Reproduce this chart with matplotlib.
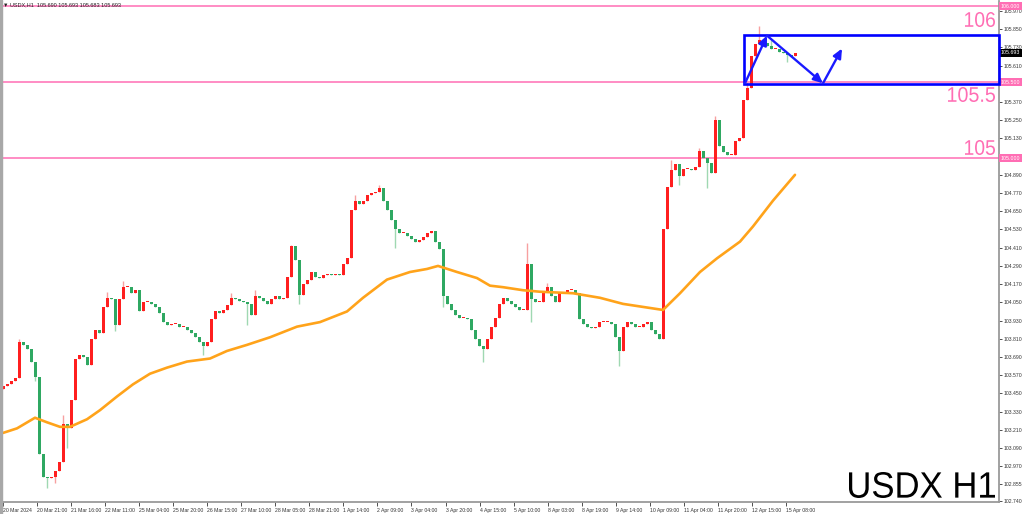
import numpy as np
import matplotlib.pyplot as plt
from matplotlib.textpath import TextPath
from matplotlib.patches import PathPatch
from matplotlib.transforms import Affine2D, IdentityTransform
from matplotlib.font_manager import FontProperties

plt.rcParams['font.family'] = ['Liberation Sans', 'DejaVu Sans']

# hourly closes, one value per 2 bars
closes = [
    103.50, 103.51, 103.53, 103.55, 103.79, 103.77, 103.74, 103.66, 103.56, 103.05,
    102.90, 102.89, 102.90, 102.94, 103.00, 103.25, 103.22, 103.41, 103.68, 103.70,
    103.69, 103.64, 103.81, 103.87, 103.85, 104.02, 104.08, 104.07, 103.90, 104.07,
    104.15, 104.15, 104.11, 104.13, 103.99, 104.05, 104.05, 104.04, 104.02, 103.98,
    103.92, 103.90, 103.91, 103.91, 103.89, 103.89, 103.87, 103.85, 103.82, 103.79,
    103.76, 103.79, 103.94, 103.99, 103.98, 104.00, 104.03, 104.08, 104.07, 104.06,
    104.05, 104.04, 103.97, 104.09, 104.08, 104.06, 104.04, 104.07, 104.09, 104.07,
    104.08, 104.22, 104.42, 104.33, 104.10, 104.17, 104.20, 104.25, 104.22, 104.21,
    104.23, 104.24, 104.23, 104.24, 104.23, 104.30, 104.34, 104.66, 104.72, 104.70,
    104.72, 104.76, 104.77, 104.78, 104.80, 104.72, 104.66, 104.59, 104.53, 104.51,
    104.51, 104.49, 104.47, 104.45, 104.46, 104.48, 104.51, 104.52, 104.45, 104.40,
    104.09, 104.04, 104.00, 103.97, 103.95, 103.95, 103.94, 103.87, 103.81, 103.76,
    103.74, 103.81, 103.89, 103.95, 104.04, 104.08, 104.06, 104.04, 104.02, 104.00,
    104.00, 104.30, 104.07, 104.05, 104.05, 104.12, 104.15, 104.09, 104.05, 104.11,
    104.12, 104.13, 104.13, 104.11, 103.94, 103.91, 103.89, 103.88, 103.89, 103.92,
    103.92, 103.92, 103.91, 103.82, 103.73, 103.89, 103.92, 103.91, 103.89, 103.89,
    103.91, 103.92, 103.87, 103.84, 103.81, 104.53, 104.81, 104.92, 104.96, 104.88,
    104.93, 104.93, 104.92, 104.94, 105.05, 105.00, 104.97, 104.90, 105.25, 105.08,
    105.04, 105.02, 105.02, 105.11, 105.13, 105.38, 105.46, 105.67, 105.75, 105.78,
    105.76, 105.74, 105.72, 105.72, 105.70, 105.69, 105.68, 105.67, 105.69,
]
first_open = 103.48

# notable wick extremes (candle index -> price)
wick_highs = {4: 103.81, 9: 103.19, 15: 103.31, 26: 104.12, 30: 104.19,
              57: 104.11, 63: 104.13, 72: 104.43, 88: 104.76, 94: 104.82,
              131: 104.44, 136: 104.18, 167: 104.99, 174: 105.07, 178: 105.28,
              186: 105.50, 189: 105.87, 192: 105.78}
wick_lows = {8: 103.53, 11: 102.83, 13: 102.86, 16: 103.09, 28: 103.86,
             50: 103.70, 61: 103.90, 74: 104.04, 98: 104.41, 110: 104.02,
             120: 103.66, 132: 103.92, 154: 103.63, 169: 104.82, 176: 104.80,
             196: 105.63}

# 100-period moving average (bar index, price)
ma_bars = [0, 7, 16, 22, 28.5, 33.5, 42, 48.5, 57, 65, 73.5, 82, 92, 103.5, 112,
           122, 133.5, 147, 158.5, 172, 180, 192, 203.5, 212, 217.5, 227, 237,
           243.5, 250, 260, 268.5, 285, 298.5, 310, 330, 338.5, 348.5, 357, 368.5,
           375, 385, 396]
ma_vals = [103.19, 103.22, 103.29, 103.26, 103.23, 103.23, 103.28, 103.34, 103.43,
           103.51, 103.58, 103.62, 103.66, 103.68, 103.73, 103.77, 103.82, 103.89,
           103.92, 103.99, 104.08, 104.20, 104.25, 104.27, 104.29, 104.25, 104.21,
           104.16, 104.15, 104.13, 104.12, 104.11, 104.08, 104.04, 104.00, 104.11,
           104.25, 104.34, 104.45, 104.55, 104.72, 104.89]

levels = [106.0, 105.5, 105.0]
level_texts = ['106', '105.5', '105']
level_boxes = ['106.000', '105.500', '105.000']
last_price = 105.693

range_bars = [370.5, 498]
range_prices = [105.49, 105.81]
path_bars = [371, 382, 410, 419.5]
path_prices = [105.493, 105.807, 105.493, 105.722]

price_ticks = [105.970, 105.850, 105.730, 105.610, 105.370, 105.250, 105.130,
               104.890, 104.770, 104.650, 104.530, 104.410, 104.290, 104.170,
               104.050, 103.930, 103.810, 103.690, 103.570, 103.450, 103.330,
               103.210, 103.090, 102.970, 102.855, 102.740]
time_labels = ['20 Mar 2024', '20 Mar 21:00', '21 Mar 16:00', '22 Mar 11:00',
               '25 Mar 04:00', '25 Mar 20:00', '26 Mar 15:00', '27 Mar 10:00',
               '28 Mar 05:00', '28 Mar 21:00', '1 Apr 14:00', '2 Apr 09:00',
               '3 Apr 04:00', '3 Apr 20:00', '4 Apr 15:00', '5 Apr 10:00',
               '8 Apr 03:00', '8 Apr 19:00', '9 Apr 14:00', '10 Apr 09:00',
               '11 Apr 04:00', '11 Apr 20:00', '12 Apr 15:00', '15 Apr 08:00']

pink = '#ff6eb4'
W, H = 1024, 514

fig = plt.figure(figsize=(W / 100, H / 100), dpi=100)
ax = fig.add_axes([2 / W, 12 / H, 997 / W, 501 / H])

c = np.array(closes)
o = np.r_[first_open, c[:-1]]
hi = np.maximum(o, c)
lo = np.minimum(o, c)
for k, v in wick_highs.items():
    hi[k] = max(hi[k], v)
for k, v in wick_lows.items():
    lo[k] = min(lo[k], v)
xs = np.arange(len(c)) * 2
up = c >= o
dn = ~up
bot = np.minimum(o, c)
body = np.maximum(np.abs(c - o), 0.006)

ax.vlines(xs[up], lo[up], hi[up], color='#f7a0a0', lw=1.0, zorder=2)
ax.vlines(xs[dn], lo[dn], hi[dn], color='#9fd8b2', lw=1.0, zorder=2)
ax.bar(xs[up], body[up], bottom=bot[up], width=1.5, color='#ff1f1f', lw=0, zorder=3)
ax.bar(xs[dn], body[dn], bottom=bot[dn], width=1.5, color='#2fa862', lw=0, zorder=3)

ax.plot(ma_bars, ma_vals, color='#ffa31a', lw=1.9, zorder=4,
        solid_capstyle='round', solid_joinstyle='round')

for lv in levels:
    ax.axhline(lv, color=pink, lw=1.1, zorder=1)

ax.add_patch(plt.Rectangle((range_bars[0], range_prices[0]),
                           range_bars[1] - range_bars[0],
                           range_prices[1] - range_prices[0],
                           fill=False, ec='#0000ff', lw=1.9, zorder=5,
                           clip_on=False))
for i in range(len(path_bars) - 1):
    ax.annotate('', xy=(path_bars[i + 1], path_prices[i + 1]),
                xytext=(path_bars[i], path_prices[i]),
                arrowprops=dict(arrowstyle='-|>,head_length=0.55,head_width=0.25',
                                color='#1a1aff', lw=1.7, shrinkA=0, shrinkB=0),
                zorder=6)

ax.set_xlim(-0.5, 498)
ax.set_ylim(102.735, 106.035)

ax.yaxis.tick_right()
ax.set_yticks(price_ticks)
ax.set_yticklabels(['%.3f' % t for t in price_ticks])
ax.tick_params(axis='y', length=2, width=0.6, pad=1.5, labelsize=3.7,
               colors='#333333')
ax.set_xticks(np.arange(len(time_labels)) * 17.02)
ax.set_xticklabels(time_labels)
for t in ax.get_xticklabels():
    t.set_ha('left')
ax.tick_params(axis='x', length=3, width=0.6, pad=1, labelsize=3.7,
               colors='#333333')

for s in ['top', 'left']:
    ax.spines[s].set_visible(False)
for s in ['right', 'bottom']:
    ax.spines[s].set_color('#9a9a9a')
    ax.spines[s].set_linewidth(1.3)

# price boxes on the axis
ytf = ax.get_yaxis_transform()
for lv, box in zip(levels, level_boxes):
    ax.text(1.002, lv, box, transform=ytf, ha='left', va='center', fontsize=3.8,
            color='white', clip_on=False,
            bbox=dict(boxstyle='square,pad=0.3', fc=pink, ec='none'))
ax.text(1.002, last_price, '%.3f' % last_price, transform=ytf, ha='left',
        va='center', fontsize=3.8, color='white', clip_on=False,
        bbox=dict(boxstyle='square,pad=0.3', fc='black', ec='none'))

# big labels: fit the glyph outlines into the box they cover in the screenshot
fp = FontProperties(family='Liberation Sans')


def box_text(s, x0, y0, x1, y1, color):
    tp = TextPath((0, 0), s, size=100, prop=fp)
    ext = tp.get_extents()
    tr = (Affine2D().translate(-ext.x0, -ext.y0)
          .scale((x1 - x0) / ext.width, (y1 - y0) / ext.height)
          .translate(x0, H - y1))
    fig.add_artist(PathPatch(tr.transform_path(tp), transform=IdentityTransform(),
                             fc=color, ec='none', zorder=8))


box_text(level_texts[0], 965, 12, 995, 27, pink)
box_text(level_texts[1], 948, 87, 995, 102, pink)
box_text(level_texts[2], 965, 140, 995, 155, pink)
box_text('USDX H1', 849, 472, 995, 498, 'black')

fig.text(3 / W, 1 - 5 / H, '\u25bc USDX,H1  105.690 105.693 105.683 105.693',
         ha='left', va='center', fontsize=4.0, color='#222222')

fig.patches.append(plt.Rectangle((0, 0), 2 / W, 1, transform=fig.transFigure,
                                 color='#a8a8a8', zorder=10))

fig.savefig('out.png', dpi=100)
